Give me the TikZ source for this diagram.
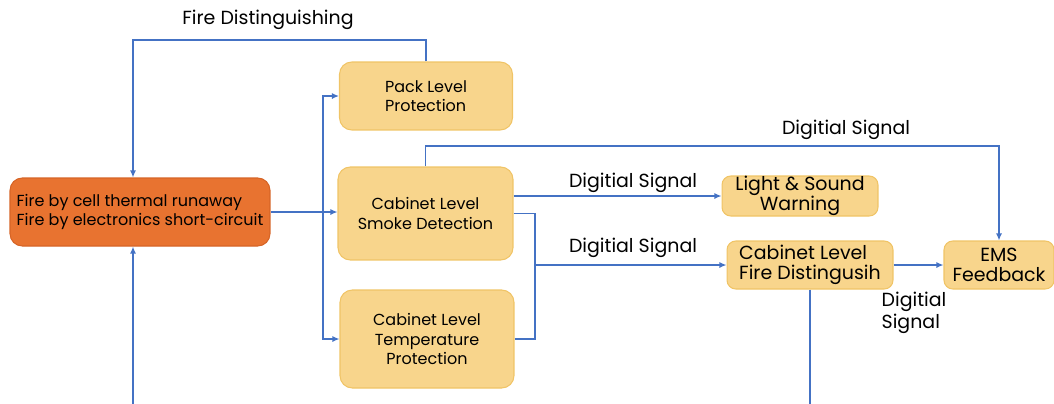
\documentclass[tikz,border=0pt]{standalone}
\usepackage{fontspec}
\setmainfont{Poppins}
\usetikzlibrary{arrows.meta}
\definecolor{lnblue}{RGB}{68,114,196}
\definecolor{boxfill}{RGB}{248,213,140}
\definecolor{boxedge}{RGB}{240,196,102}
\definecolor{firefill}{RGB}{232,115,48}
\definecolor{fireedge}{RGB}{214,100,38}

\begin{document}
\begin{tikzpicture}[x=0.02cm,y=-0.02cm,>={Latex[length=4pt,width=3.5pt]},
l/.style={draw=lnblue,line width=0.8pt},
b/.style={draw=boxedge,fill=boxfill,rounded corners=7pt,inner sep=0pt,line width=0.6pt,align=center,font=\fontsize{9.1}{11}\selectfont},
bb/.style={b,rounded corners=5pt,font=\fontsize{10.8}{11.5}\selectfont},
f/.style={draw=fireedge,fill=firefill,rounded corners=7pt,inner sep=0pt,line width=0.6pt,align=left,font=\fontsize{9.1}{10.5}\selectfont},
s/.style={font=\fontsize{10.8}{12.5}\selectfont,align=left}]
\useasboundingbox (0,0) rectangle (1054,403);
\node[f,minimum width=5.2cm,minimum height=1.36cm] (src) at (140,212) {Fire by cell thermal runaway\\Fire by electronics short-circuit};
\node[b,minimum width=3.46cm,minimum height=1.36cm,align=left] (pack) at (426,96) {Pack Level\\Protection};
\node[b,minimum width=3.5cm,minimum height=1.86cm] (smoke) at (425.5,213.5) {Cabinet Level\\Smoke Detection};
\node[b,minimum width=3.48cm,minimum height=1.96cm] (temp) at (427,339) {Cabinet Level\\Temperature\\Protection};
\node[bb,minimum width=3.12cm,minimum height=0.8cm] (light) at (800,196) {Light \& Sound\\Warning};
\node[bb,minimum width=3.32cm,minimum height=0.96cm,align=left] (cfd) at (810,265) {Cabinet Level\\Fire Distingusih};
\node[bb,minimum width=2.2cm,minimum height=0.96cm] (ems) at (999,265) {EMS\\Feedback};
\coordinate (fdc) at (133,40);
\coordinate (lp) at (133,420);
\coordinate (bus) at (323,212);
\coordinate (top) at (0,146);
\coordinate (jn) at (535,265);
\draw[l,->] (pack.north) |- (fdc) -- (fdc |- src.north);
\draw[l,->] (cfd.south) |- (lp) -- (lp |- src.south);
\draw[l,->] (src.east) -- (src.east -| smoke.west);
\draw[l,->] (bus) |- (pack.west);
\draw[l,->] (bus) |- (temp.west);
\draw[l,->] (smoke.north) |- (top -| ems.north) -- (ems.north);
\draw[l,->] (smoke.east |- light.west) -- (light.west);
\draw[l,->] (smoke.east) -| (jn) -- (cfd.west);
\draw[l] (temp.east) -| (jn);
\draw[l,->] (cfd) -- (ems);
\node[s] (t1) at (268,20) {Fire Distinguishing};
\node[s] (t2) at (846,130) {Digitial Signal};
\node[s] (t3) at (633,183) {Digitial Signal};
\node[s] (t4) at (633,248) {Digitial Signal};
\node[s] (t5) at (914,313) {Digitial\\Signal};
\end{tikzpicture}
\end{document}
